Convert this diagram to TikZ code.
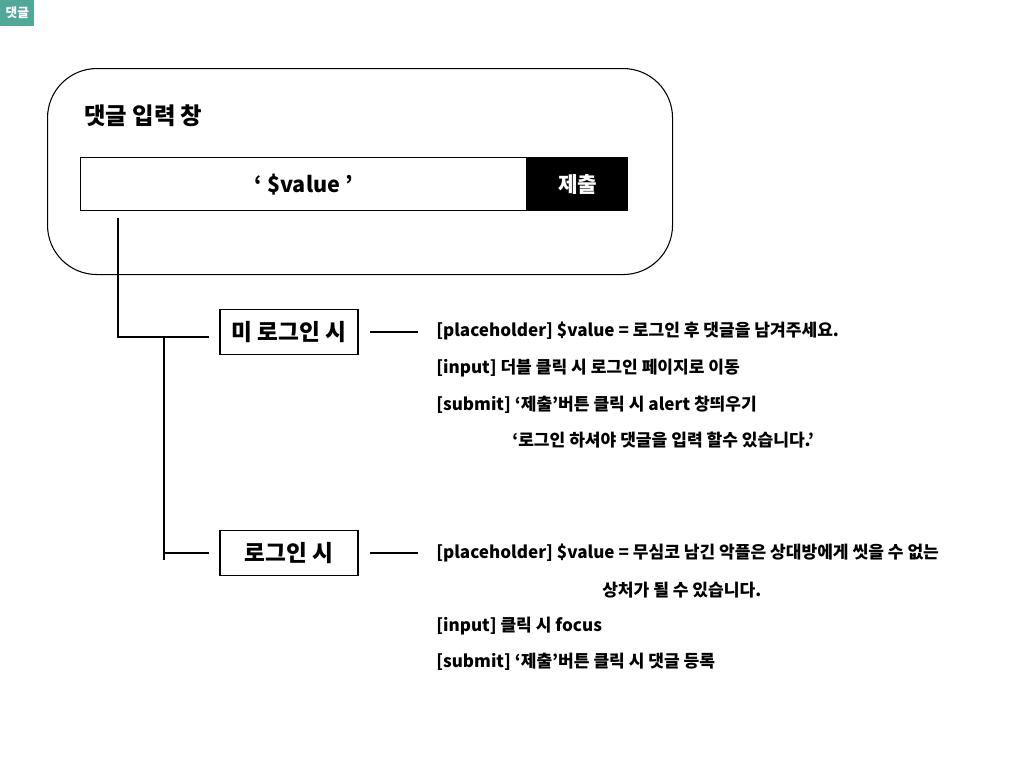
\documentclass[tikz,border=0pt]{standalone}
\usepackage{fontspec}
\setmainfont{Noto Sans CJK KR}
\usetikzlibrary{positioning}
\definecolor{tagteal}{RGB}{82,168,152}
\tikzset{
  cond/.style={draw,line width=0.8pt,font=\fontsize{17}{20}\selectfont\bfseries,minimum width=103.5pt,minimum height=33.75pt,inner sep=2pt},
  note/.style={anchor=west,font=\fontsize{12.8}{15}\selectfont\bfseries,inner sep=0pt},
  wire/.style={line width=1.1pt}
}
\begin{document}
\begin{tikzpicture}[x=0.75pt,y=-0.75pt]
\useasboundingbox (0,0) rectangle (1024,768);
\node[fill=tagteal,text=white,font=\fontsize{9.5}{10}\selectfont\bfseries,minimum width=25.5pt,minimum height=19pt,inner sep=0,anchor=north west] (tag) at (0,0) {댓글};
% comment panel
\node[draw,line width=0.8pt,rounded corners=37pt,minimum width=468.75pt,minimum height=154.5pt,anchor=north west] (panel) at (47,68) {};
\node[anchor=west,font=\fontsize{17.5}{20}\selectfont\bfseries,inner sep=0] (title) at (84,116) {댓글 입력 창};
\node[draw,line width=1pt,minimum width=334.5pt,minimum height=39.75pt,anchor=north west,font=\fontsize{16.2}{18}\selectfont\bfseries] (field) at (80,157) {‘ \$value ’};
\node[draw,fill=black,text=white,line width=1pt,minimum width=74.5pt,minimum height=39.75pt,right=0pt of field,font=\fontsize{16}{18}\selectfont\bfseries] (submit) {제출};
% conditions
\node[cond] (nologin) at (289,332) {미 로그인 시};
\node[cond] (login) at (289,553) {로그인 시};
\node[note] (n1) at (436,331) {[placeholder] \$value = 로그인 후 댓글을 남겨주세요.};
\node[note] (n2) at (436,368) {[input] 더블 클릭 시 로그인 페이지로 이동};
\node[note] (n3) at (436,405) {[submit] ‘제출’버튼 클릭 시 alert 창띄우기};
\node[note] (n4) at (512,440) {‘로그인 하셔야 댓글을 입력 할수 있습니다.’};
\node[note] (l1) at (436,553) {[placeholder] \$value = 무심코 남긴 악플은 상대방에게 씻을 수 없는};
\node[note] (l2) at (602,590) {상처가 될 수 있습니다.};
\node[note] (l3) at (436,626) {[input] 클릭 시 focus};
\node[note] (l4) at (436,662) {[submit] ‘제출’버튼 클릭 시 댓글 등록};
% connectors
\coordinate (drop) at (118,218);
\coordinate (split) at (164,337);
\coordinate (tail) at (164,560);
\draw[wire] (drop) |- (split) -- ([xshift=-7.5pt]nologin.west |- split);
\draw[wire] (split) -- (tail);
\draw[wire] (split |- login.west) -- ([xshift=-7.5pt]login.west);
\foreach \a/\b in {nologin/n1,login/l1}
  \draw[wire,shorten <=8.25pt,shorten >=13.5pt] (\a.east) -- (\a.east -| \b.west);
\end{tikzpicture}
\end{document}
